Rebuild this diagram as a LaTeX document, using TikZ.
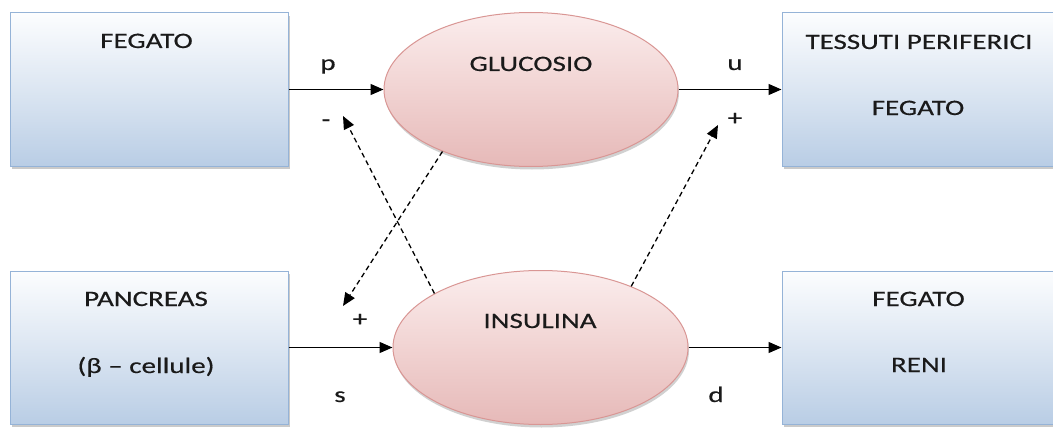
\documentclass[tikz,border=0pt]{standalone}
\usepackage{fontspec}
\setmainfont{Carlito}[FakeStretch=1.32, FakeBold=0.4]
\usetikzlibrary{arrows.meta,shadows,shapes.geometric}
\definecolor{boxedge}{HTML}{95B3D7}
\definecolor{boxtop}{HTML}{FCFDFE}
\definecolor{boxmid}{HTML}{DCE6F2}
\definecolor{boxbot}{HTML}{B9CDE5}
\definecolor{elledge}{HTML}{D99694}
\definecolor{elltop}{HTML}{FBEDED}
\definecolor{ellmid}{HTML}{F1D3D2}
\definecolor{ellbot}{HTML}{E6B9B8}
\definecolor{inkgray}{HTML}{1A1A1A}

\begin{document}
\begin{tikzpicture}[x=1pt,y=-1pt,
  organ/.style={rectangle, draw=boxedge, line width=1pt, inner sep=0pt,
    top color=boxtop, bottom color=boxbot, middle color=boxmid,
    drop shadow={shadow xshift=2pt, shadow yshift=-3pt, opacity=0.35, fill=black!60}},
  pool/.style={ellipse, draw=elledge, line width=1pt, inner sep=0pt,
    top color=elltop, bottom color=ellbot, middle color=ellmid,
    drop shadow={shadow xshift=1pt, shadow yshift=-3pt, opacity=0.3, fill=black!60}},
  txt/.style={font=\fontsize{22}{26}\selectfont, text=inkgray, inner sep=0pt, anchor=base},
  sign/.style={font=\fontsize{22}{26}\selectfont, text=inkgray, inner sep=0pt},
  flow/.style={line width=1.3pt, -{Triangle[length=13pt,width=11pt]}},
  feedback/.style={line width=1.3pt, dash pattern=on 5pt off 3.5pt,
    -{Triangle[length=13pt,width=11pt]}}]
\useasboundingbox (0,0) rectangle (1053,428);

% compartments (boxes) and pools (ellipses)
\node[organ, minimum width=278pt, minimum height=153pt] (fegL) at (149,89.5) {};
\node[organ, minimum width=278pt, minimum height=153pt] (panc) at (149,347.5) {};
\node[organ, minimum width=272pt, minimum height=153pt] (tess) at (918,89.5) {};
\node[organ, minimum width=272pt, minimum height=153pt] (rene) at (918,347.5) {};
\node[pool, minimum width=294pt, minimum height=154pt] (gluc) at (531,89.5) {};
\node[pool, minimum width=295pt, minimum height=154pt] (insu) at (540.5,347.5) {};

% texts inside the shapes
\node[txt] (tFegL) at (146.5,48) {FEGATO};
\node[txt] (tTess) at (919,49) {TESSUTI PERIFERICI};
\node[txt] (tFegR) at (918,115) {FEGATO};
\node[txt] (tPanc) at (146,306) {PANCREAS};
\node[txt] (tBeta) at (146,373) {(\char"03B2{} \char"2013{} cellule)};
\node[txt] (tFegB) at (918.5,306) {FEGATO};
\node[txt] (tReni) at (919,372) {RENI};
\node[txt] (tGluc) at (531,71) {GLUCOSIO};
\node[txt] (tInsu) at (540,328) {INSULINA};

% fluxes
\draw[flow] (fegL.east) -- (gluc.west);
\draw[flow] (gluc.east) -- (tess.west);
\draw[flow] (panc.east) -- (insu.west);
\draw[flow] (insu.east) -- (rene.west);

% feedback actions
\coordinate (tipPanc) at (343,306);
\coordinate (tipProd) at (343,116);
\coordinate (tipUse) at (718,125);
\draw[feedback] (gluc.215) -- (tipPanc);
\draw[feedback] (insu.153.9) -- (tipProd);
\draw[feedback] (insu.34.8) -- (tipUse);

% flux and sign labels
\node[txt] (lp) at (328,70) {p};
\node[txt] (lu) at (735,70) {u};
\node[txt] (ls) at (340,402) {s};
\node[txt] (ld) at (716,402) {d};
\node[sign] (sMinus) at (326,123) {-};
\node[sign] (sPlusU) at (735,119) {+};
\node[sign] (sPlusS) at (360,320) {+};
\end{tikzpicture}
\end{document}
